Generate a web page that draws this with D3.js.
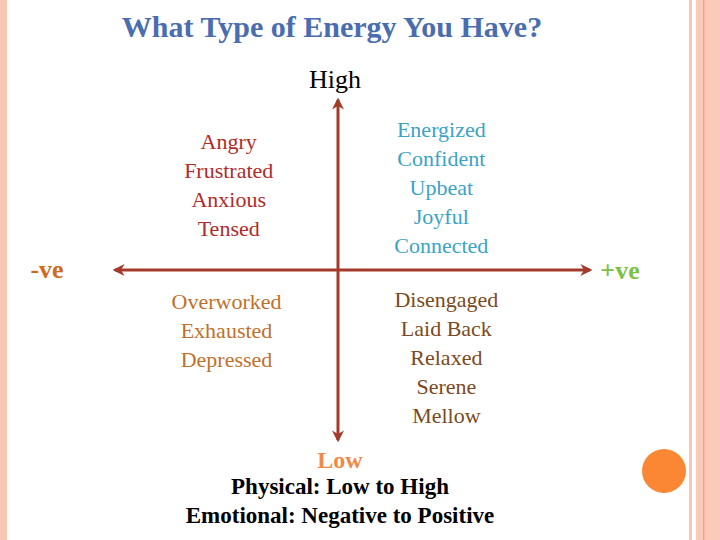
<!DOCTYPE html>
<html><head><meta charset="utf-8">
<script src="https://cdn.jsdelivr.net/npm/d3@7"></script>
<style>body{margin:0;background:#fff}</style></head>
<body><svg id="c" width="720" height="540"></svg>
<script>
const title = "What Type of Energy You Have?";
const quadrants = ["topLeft","topRight","bottomLeft","bottomRight"];
const topLeftWords = ["Angry","Frustrated","Anxious","Tensed"];
const topRightWords = ["Energized","Confident","Upbeat","Joyful","Connected"];
const bottomLeftWords = ["Overworked","Exhausted","Depressed"];
const bottomRightWords = ["Disengaged","Laid Back","Relaxed","Serene","Mellow"];
const axisLabels = {high:"High", low:"Low", neg:"-ve", pos:"+ve"};
const footer = ["Physical: Low to High","Emotional: Negative to Positive"];

const svg = d3.select("#c");
const x = d3.scaleLinear().domain([-1,0,1]).range([115,338,590]);
const y = d3.scaleLinear().domain([-1,1]).range([440,100]);
const serif = "'Liberation Serif','DejaVu Serif',serif";
const axisCol = "#a33b2a";

svg.append("rect").attr("x",0).attr("y",0).attr("width",7).attr("height",540).attr("fill","#f9c6b4");
svg.append("rect").attr("x",689).attr("y",0).attr("width",3).attr("height",540).attr("fill","#f9c6b4");
svg.append("rect").attr("x",696).attr("y",0).attr("width",24).attr("height",540).attr("fill","#fbcab8");
svg.append("rect").attr("x",703).attr("y",0).attr("width",1.5).attr("height",540).attr("fill","#f0a58a");
svg.append("circle").attr("cx",664).attr("cy",471).attr("r",22).attr("fill","#fb8735");

svg.append("text").attr("x",332).attr("y",37).attr("text-anchor","middle")
  .attr("font-family",serif).attr("font-weight","bold").attr("font-size",30).attr("fill","#4a6db0").text(title);

const defs = svg.append("defs");
defs.append("marker").attr("id","ah").attr("viewBox","0 0 10 10").attr("refX",8).attr("refY",5)
  .attr("markerWidth",4).attr("markerHeight",4).attr("orient","auto-start-reverse")
  .append("path").attr("d","M0,0L10,5L0,10L3,5Z").attr("fill",axisCol);

svg.append("line").attr("x1",x(0)).attr("x2",x(0)).attr("y1",y(-1)).attr("y2",y(1))
  .attr("stroke",axisCol).attr("stroke-width",3).attr("marker-start","url(#ah)").attr("marker-end","url(#ah)");
svg.append("line").attr("x1",x(-1)).attr("x2",x(1)).attr("y1",y(0)).attr("y2",y(0))
  .attr("stroke",axisCol).attr("stroke-width",3).attr("marker-start","url(#ah)").attr("marker-end","url(#ah)");

const lbl = (t,px,py,size,col,bold)=>svg.append("text").attr("x",px).attr("y",py).attr("text-anchor","middle")
  .attr("font-family",serif).attr("font-size",size).attr("fill",col).attr("font-weight",bold?"bold":"normal").text(t);
lbl(axisLabels.high,335,88,26,"#000");
lbl(axisLabels.low,340,468,24,"#f0884a",true);
lbl(axisLabels.neg,47,278,26,"#d06a1e",true);
lbl(axisLabels.pos,620,279,26,"#7cc142",true);

const conf = {
  topLeft:{words:topLeftWords, cx:-0.49, cy:0.71, col:"#b22a2a"},
  topRight:{words:topRightWords, cx:0.41, cy:0.78, col:"#3ba3c8"},
  bottomLeft:{words:bottomLeftWords, cx:-0.5, cy:-0.23, col:"#c0702c"},
  bottomRight:{words:bottomRightWords, cx:0.43, cy:-0.215, col:"#7a4a1e"}
};
quadrants.forEach(q=>{
  const c = conf[q];
  svg.append("g").selectAll("text").data(c.words).join("text")
    .attr("x",x(c.cx)).attr("y",(d,i)=>y(c.cy)+i*29)
    .attr("text-anchor","middle").attr("font-family",serif).attr("font-size",22).attr("fill",c.col).text(d=>d);
});

footer.forEach((t,i)=>lbl(t,340,494+i*29,23,"#000",true));
</script></body></html>
